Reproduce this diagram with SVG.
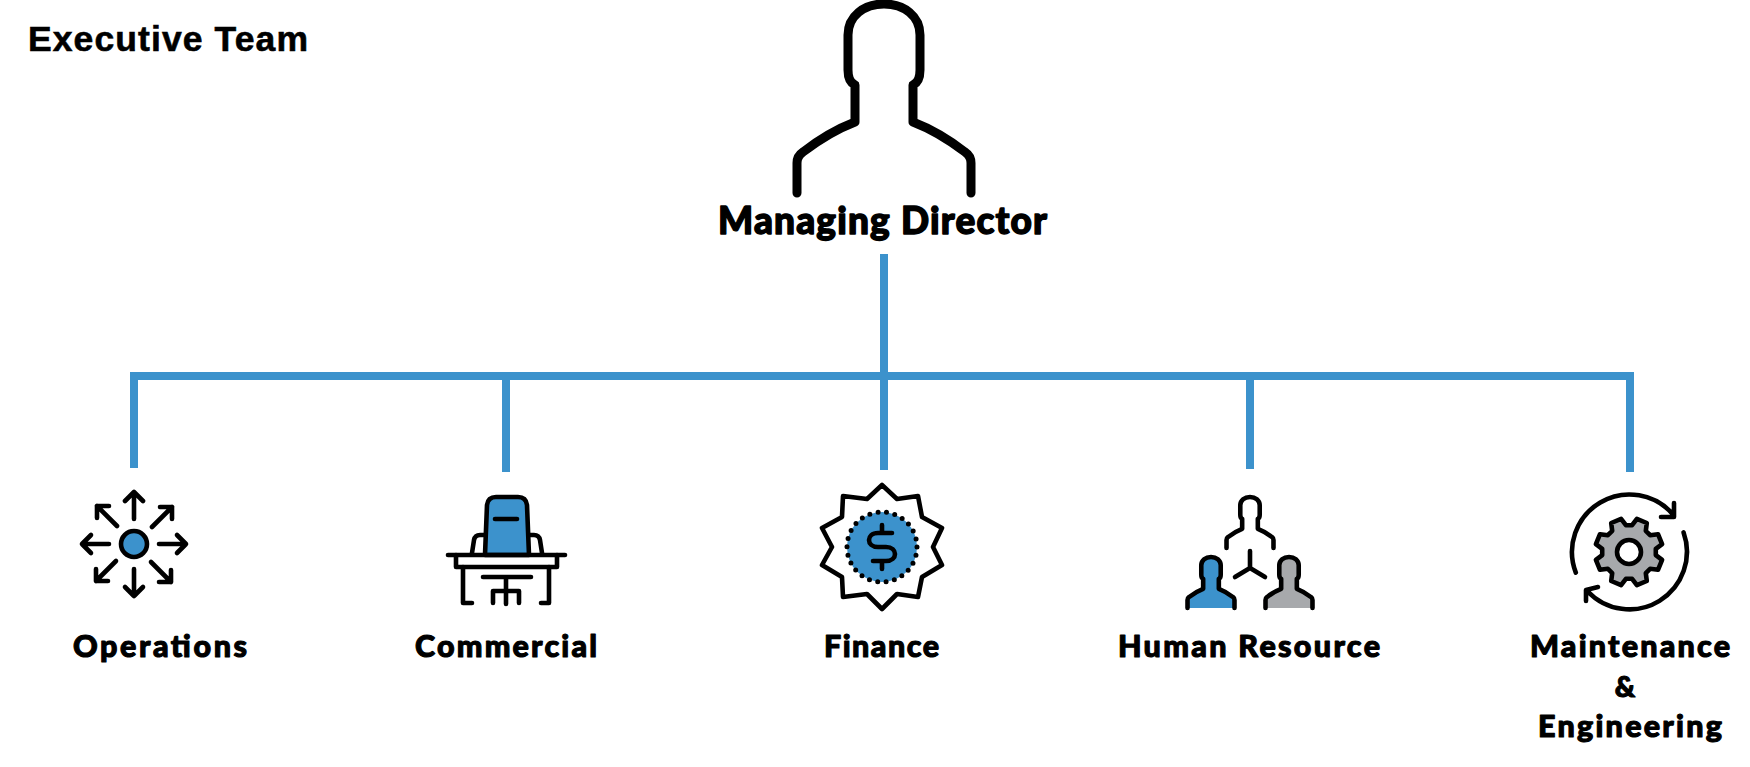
<svg xmlns="http://www.w3.org/2000/svg" xmlns:xlink="http://www.w3.org/1999/xlink" width="1750" height="767" viewBox="0 0 1750 767">
<style>
.lbl{font-family:"Lato","Liberation Sans",sans-serif;font-weight:900;font-size:30.5px;fill:#000;stroke:#000;stroke-width:1.1px;stroke-linejoin:round}
.ic{fill:none;stroke:#000;stroke-width:4.6;stroke-linecap:round;stroke-linejoin:round}
.blue{fill:#3C92CC}
.gray{fill:#A7A9AC}
.conn{stroke:#3C92CC;stroke-width:8;fill:none}
</style>
<defs>
<path id="person" stroke-linecap="round" stroke-linejoin="round" d="M-87,189 V159 Q-87,152 -81,148 Q-55,128 -29,118 V81 Q-36,78 -36,66 V31 C-36,12 -20,0 0,0 C20,0 36,12 36,31 V66 Q36,78 29,81 V118 Q55,128 81,148 Q87,152 87,159 V189"/>
<path id="up" d="M0,-25 V-52 M-9,-43 L0,-52 L9,-43"/>
<path id="ne" d="M18,-17 L38,-37 M26,-37 H38 V-25"/>
</defs>
<rect width="1750" height="767" fill="#fff"/>
<g id="connectors" class="conn">
<path d="M884,254 V470"/>
<path d="M134,468 V376 H1630 V472"/>
<path d="M506,376 V472"/>
<path d="M1250,376 V469"/>
</g>
<g id="title"><text x="28" y="51" font-family="Liberation Sans, sans-serif" font-weight="700" font-size="35.5" stroke="#000" stroke-width=".6" textLength="280" lengthAdjust="spacing">Executive Team</text></g>
<g id="managing-director">
<use xlink:href="#person" href="#person" transform="translate(884,4)" fill="none" stroke="#000" stroke-width="9"/>
<text class="lbl" x="718" y="234" style="font-size:37px;stroke-width:1.4px" textLength="329" lengthAdjust="spacing">Managing Director</text>
</g>
<g id="operations">
<g class="ic" transform="translate(134,544)">
<circle r="13" class="blue"/>
<use href="#up"/>
<use href="#up" transform="rotate(90)"/>
<use href="#up" transform="rotate(180)"/>
<use href="#up" transform="rotate(270)"/>
<use href="#ne"/>
<use href="#ne" transform="rotate(90)"/>
<use href="#ne" transform="rotate(180)"/>
<use href="#ne" transform="rotate(270)"/>
</g>
<text class="lbl" x="73" y="657" textLength="174" lengthAdjust="spacing">Operations</text>
</g>
<g id="commercial">
<g class="ic">
<path class="blue" d="M485,555 L487,505 Q488,497 496,497 H518 Q526,497 527,505 L529,555 Z"/>
<path d="M495,519 H517"/>
<path d="M472,553 L474,540 Q475,535 480,535 H484 M542,553 L540,540 Q539,535 534,535 H530"/>
<path d="M448,555 H565"/>
<path d="M456,555 V567 H557 V555"/>
<path d="M463,567 V603 H472 M549,567 V603 H541"/>
<path d="M483,577 H531 M506,577 V604 M493,603 V591 H519 V603"/>
</g>
<text class="lbl" x="415" y="657" textLength="182" lengthAdjust="spacing">Commercial</text>
</g>
<g id="finance">
<g class="ic">
<path d="M882,485 L897,499 L918,496 L922,517 L942,528 L933,547 L942,565 L922,577 L918,597 L897,594 L882,609 L867,594 L843,597 L842,577 L822,565 L832,547 L822,528 L842,517 L843,496 L867,499 Z"/>
<circle cx="882" cy="547" r="35" fill="#3C92CC" stroke="none"/>
<circle cx="882" cy="547" r="35" stroke-width="5" stroke-dasharray="0 8.46"/>
<path d="M892,533 H878 C866,533 866,547 878,547 H886 C898,547 898,561 886,561 H873 M882,525 V532 M882,562 V569"/>
</g>
<text class="lbl" x="824" y="657" textLength="115" lengthAdjust="spacing">Finance</text>
</g>
<g id="human-resource">
<use href="#person" transform="translate(1250,497) scale(.27)" fill="none" stroke="#000" stroke-width="17"/>
<use href="#person" class="blue" transform="translate(1211,557) scale(.27)" stroke="#000" stroke-width="17"/>
<use href="#person" class="gray" transform="translate(1289,557) scale(.27)" stroke="#000" stroke-width="17"/>
<path class="ic" d="M1250,551 V568 M1250,568 L1235,577 M1250,568 L1265,577"/>
<text class="lbl" x="1118" y="657" textLength="262" lengthAdjust="spacing">Human Resource</text>
</g>
<g id="maintenance-engineering">
<g class="ic">
<path d="M1575.8,572.6 A57.5,57.5 0 0 1 1673.5,515 M1674,503 V517 H1661"/>
<path d="M1683.5,532.3 A57.5,57.5 0 0 1 1587.5,591.2 M1586,601 V590 L1598,587"/>
<path class="gray" transform="translate(1629,552)" d="M26.8,3.1 L33.1,7.9 L29,17.8 L21.1,16.8 L16.8,21.1 L17.8,29 L7.9,33.1 L3.1,26.8 L-3.1,26.8 L-7.9,33.1 L-17.8,29 L-16.8,21.1 L-21.1,16.8 L-29,17.8 L-33.1,7.9 L-26.8,3.1 L-26.8,-3.1 L-33.1,-7.9 L-29,-17.8 L-21.1,-16.8 L-16.8,-21.1 L-17.8,-29 L-7.9,-33.1 L-3.1,-26.8 L3.1,-26.8 L7.9,-33.1 L17.8,-29 L16.8,-21.1 L21.1,-16.8 L29,-17.8 L33.1,-7.9 L26.8,-3.1 Z"/>
<circle cx="1629" cy="552" r="12" fill="#fff"/>
</g>
<text class="lbl" x="1530" y="657" textLength="200" lengthAdjust="spacing">Maintenance</text>
<text class="lbl" x="1625" y="697" text-anchor="middle" style="font-size:28px">&amp;</text>
<text class="lbl" x="1538" y="737" textLength="184" lengthAdjust="spacing">Engineering</text>
</g>
</svg>
